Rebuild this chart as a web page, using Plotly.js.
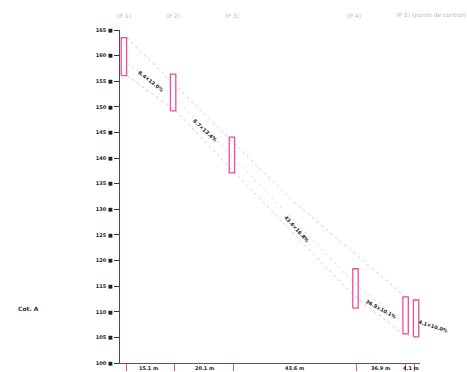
<!DOCTYPE html>
<html><head><meta charset="utf-8">
<script src="https://cdn.plot.ly/plotly-3.0.1.min.js"></script>
<style>html,body{margin:0;padding:0;background:#fff}</style>
</head><body><div id="chart" style="width:467px;height:372px"></div>
<script>
// Chainage of each pink gauge bar (m) and its top / bottom elevation (m)
const barX      = [1.3, 17.7, 37.3, 78.5, 95.2, 98.7];
const barTop    = [163.5, 156.4, 144.1, 118.4, 112.9, 112.3];
const barBottom = [156.1, 149.2, 137.1, 110.7, 105.7, 105.1];
const barHalfW  = 0.9;

// Faint guide lines
const upperX = [2.3, 57.3, 95.2];
const upperY = [163.5, 131.8, 112.9];
const lowerX = [2.3, 18.7, 38.3, 77.7, 94.3, 98.7];
const lowerY = [156.1, 149.2, 137.1, 113.3, 105.7, 105.0];
const lower2Y = [158.6, 151.6, 139.8, 115.8, 107.9, 107.0];

// Slope labels along the profile
const slopeText  = ["8.4×12.0%", "8.7×13.4%", "43.6×16.8%", "36.9×10.1%", "4.1×10.0%"];
const slopeX     = [10.3, 28.3, 59.0, 87.0, 104.3];
const slopeY     = [155.1, 145.5, 126.2, 110.5, 107.2];
const slopeAngle = [38, 43, 48, 29, 18];

// Segment boundaries (x ticks) and segment length labels
const segTicks  = [2.0, 18.3, 37.7, 78.7, 95.3, 98.3];
const segLabels = ["15.1 m", "20.1 m", "43.6 m", "36.9 m", "4.1 m"];
const segLabelX = [9.5, 28.0, 58.3, 86.7, 97.0];

// Station labels along the top
const topLabels = ["(P 1)", "(P 2)", "(P 3)", "(P 4)", "(P 5) (punto de control)"];
const topX      = [1.3, 17.7, 37.3, 78.0, 103.5];

// Elevation ticks
const yTicks = [100,105,110,115,120,125,130,135,140,145,150,155,160,165];
const yTickText = yTicks.map(v => v + " ■");

const X_MIN = 0, X_MAX = 100, Y_MIN = 100, Y_MAX = 165;
const px = v => (v - X_MIN) / (X_MAX - X_MIN);
const py = v => (v - Y_MIN) / (Y_MAX - Y_MIN);

const traces = [];
traces.push({x: upperX, y: upperY, mode: 'lines', line: {color: '#cfcfdc', width: 1, dash: 'dot'}, hoverinfo: 'skip'});
traces.push({x: lowerX, y: lowerY, mode: 'lines', line: {color: '#cfcfdc', width: 1, dash: 'dot'}, hoverinfo: 'skip'});
traces.push({x: lowerX, y: lower2Y, mode: 'lines', line: {color: '#dcdce6', width: 1, dash: 'dot'}, hoverinfo: 'skip'});
barX.forEach((bx, i) => {
  traces.push({
    x: [bx - barHalfW, bx + barHalfW, bx + barHalfW, bx - barHalfW, bx - barHalfW],
    y: [barBottom[i], barBottom[i], barTop[i], barTop[i], barBottom[i]],
    mode: 'lines', line: {color: '#ee4f92', width: 1.3}, hoverinfo: 'skip', cliponaxis: false
  });
});

const annotations = [];
slopeText.forEach((t, i) => annotations.push({
  x: px(slopeX[i]), y: py(slopeY[i]), xref: 'paper', yref: 'paper', xanchor: 'center', yanchor: 'middle',
  text: t, showarrow: false, textangle: slopeAngle[i],
  font: {family: 'DejaVu Sans', size: 5, color: '#222', weight: 'bold'}
}));
segLabels.forEach((t, i) => annotations.push({
  x: px(segLabelX[i]), y: 0, xref: 'paper', yref: 'paper', xanchor: 'center', yanchor: 'top',
  text: t, showarrow: false, font: {family: 'DejaVu Sans', size: 5, color: '#222', weight: 'bold'}
}));
topLabels.forEach((t, i) => annotations.push({
  x: px(topX[i]), y: 1, xref: 'paper', yref: 'paper', xanchor: 'center', yanchor: 'middle', yshift: 15,
  text: t, showarrow: false, font: {family: 'DejaVu Sans', size: 6, color: '#b8b8c8'}
}));
annotations.push({x: 0, y: 0, xref: 'paper', yref: 'paper', xanchor: 'left', yanchor: 'middle',
  xshift: -104, yshift: 55, text: 'Cot. A', showarrow: false,
  font: {family: 'DejaVu Sans', size: 6, color: '#333', weight: 'bold'}});

const layout = {
  width: 467, height: 372,
  margin: {l: 120, r: 47, t: 30, b: 9},
  paper_bgcolor: '#fff', plot_bgcolor: '#fff',
  showlegend: false,
  xaxis: {range: [X_MIN, X_MAX], showgrid: false, zeroline: false, showline: true, linecolor: '#5a5670', linewidth: 1,
          tickmode: 'array', tickvals: segTicks, ticks: 'outside', ticklen: 7, tickcolor: '#ee4f92',
          showticklabels: false, fixedrange: true},
  yaxis: {range: [Y_MIN, Y_MAX], showgrid: false, zeroline: false, showline: true, linecolor: '#4b4660', linewidth: 1.3,
          tickmode: 'array', tickvals: yTicks, ticktext: yTickText, ticks: 'outside', ticklen: 5, tickcolor: '#333',
          tickfont: {family: 'DejaVu Sans', size: 5, color: '#222', weight: 'bold'}, fixedrange: true},
  annotations: annotations
};
Plotly.newPlot('chart', traces, layout, {staticPlot: true});
</script></body></html>
